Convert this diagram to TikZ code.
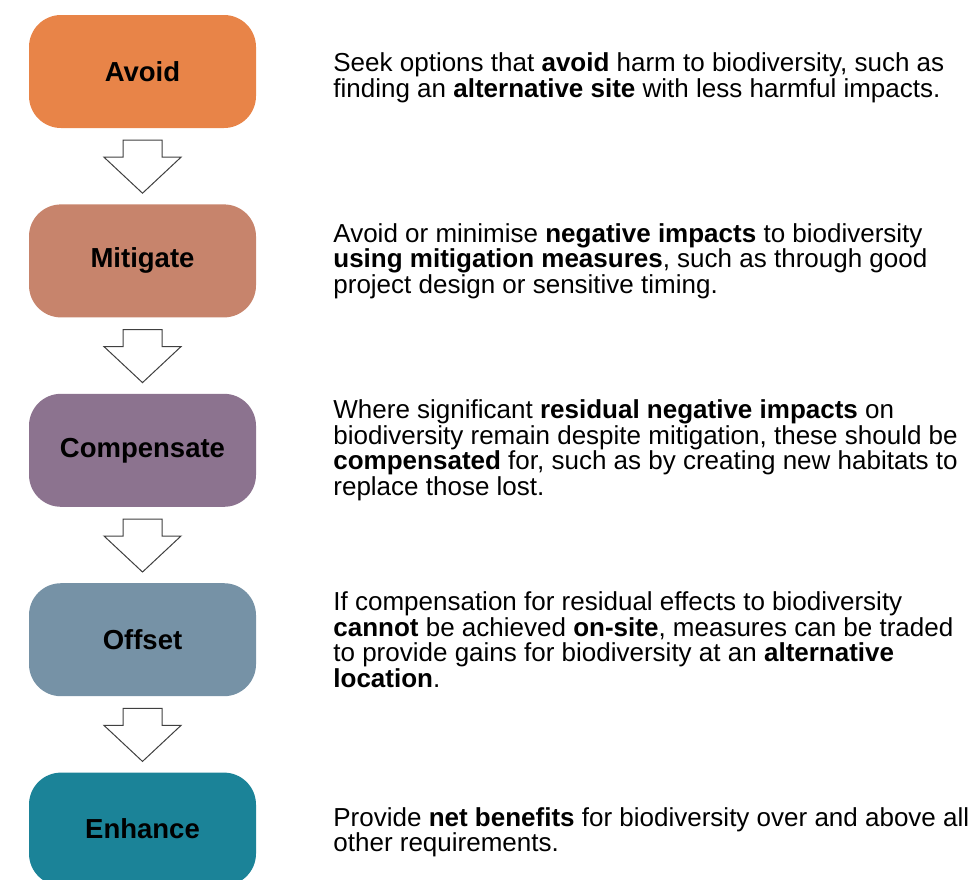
\documentclass[tikz,border=0pt]{standalone}
\usepackage{fontspec}
\setmainfont{Liberation Sans}
\usetikzlibrary{positioning,calc}

\definecolor{avoidcol}{RGB}{232,132,72}
\definecolor{mitigatecol}{RGB}{199,132,108}
\definecolor{compensatecol}{RGB}{140,115,143}
\definecolor{offsetcol}{RGB}{118,146,166}
\definecolor{enhancecol}{RGB}{27,131,152}

\begin{document}
\begin{tikzpicture}[x=1pt,y=1pt,node distance=76pt and 77pt,
  stage/.style={rounded corners=32pt,minimum width=227pt,minimum height=113pt,inner sep=0pt,
    font=\fontsize{27.5}{30}\selectfont\bfseries},
  note/.style={inner sep=0pt,align=left,font=\fontsize{26}{25.6}\selectfont},
  hollow/.style={draw=black!75,fill=white,line width=1pt,line join=miter}]
\useasboundingbox (0,0) rectangle (979,-879);

\node[stage,fill=avoidcol] (avoid) at (142.5,-71.5) {Avoid};
\node[stage,fill=mitigatecol,below=of avoid] (mitigate) {Mitigate};
\node[stage,fill=compensatecol,below=of mitigate] (compensate) {Compensate};
\node[stage,fill=offsetcol,below=of compensate] (offset) {Offset};
\node[stage,fill=enhancecol,below=of offset] (enhance) {Enhance};

\node[note,right=of avoid,yshift=-6pt] (avoidnote) {Seek options that \textbf{avoid} harm to biodiversity, such as\\
  finding an \textbf{alternative site} with less harmful impacts.};
\node[note,right=of mitigate] (mitigatenote) {Avoid or minimise \textbf{negative impacts} to biodiversity\\
  \textbf{using mitigation measures}, such as through good\\
  project design or sensitive timing.};
\node[note,right=of compensate] (compensatenote) {Where significant \textbf{residual negative impacts} on\\
  biodiversity remain despite mitigation, these should be\\
  \textbf{compensated} for, such as by creating new habitats to\\
  replace those lost.};
\node[note,right=of offset] (offsetnote) {If compensation for residual effects to biodiversity\\
  \textbf{cannot} be achieved \textbf{on-site}, measures can be traded\\
  to provide gains for biodiversity at an \textbf{alternative}\\
  \textbf{location}.};
\node[note,right=of enhance,yshift=-3pt] (enhancenote) {Provide \textbf{net benefits} for biodiversity over and above all\\
  other requirements.};

% hollow block arrows from one stage down to the next
\foreach \a/\b in {avoid/mitigate,mitigate/compensate,compensate/offset,offset/enhance}
  \draw[hollow] ($(\a.south)+(-19.5,-12)$) -- ++(39,0) -- ++(0,-17) -- ++(19,0)
    -- ($(\b.north)+(0,11)$) -- ($(\a.south)+(-38.5,-29)$) -- ++(19,0) -- cycle;
\end{tikzpicture}
\end{document}
